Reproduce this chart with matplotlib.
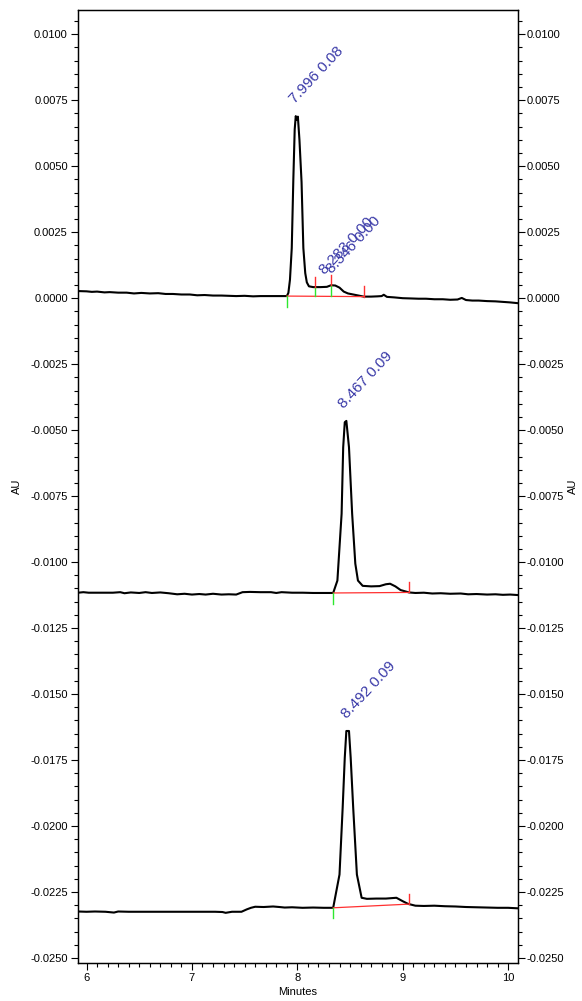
import numpy as np
import matplotlib
matplotlib.use("Agg")
import matplotlib.pyplot as plt
from matplotlib.ticker import MultipleLocator, FuncFormatter

plt.rcParams["font.family"] = ["Liberation Sans", "DejaVu Sans"]

# --- Traza 1 (superior) ---
t1 = [5.92, 6.00, 6.05, 6.10, 6.17, 6.22, 6.30, 6.38, 6.45, 6.52, 6.60, 6.68,
      6.75, 6.82, 6.90, 6.98, 7.05, 7.12, 7.20, 7.28, 7.35, 7.42, 7.50, 7.58,
      7.65, 7.72, 7.80, 7.86, 7.90, 7.915, 7.93, 7.947, 7.962, 7.975, 7.985,
      7.995, 8.005, 8.02, 8.04, 8.057, 8.075, 8.09, 8.11, 8.15, 8.22, 8.28,
      8.32, 8.36, 8.40, 8.44, 8.48, 8.53, 8.58, 8.63, 8.70, 8.76, 8.80, 8.82,
      8.85, 8.92, 9.00, 9.08, 9.15, 9.22, 9.30, 9.38, 9.45, 9.52, 9.56, 9.60,
      9.66, 9.72, 9.80, 9.88, 9.95, 10.02, 10.095]
a1 = [0.00027, 0.00026, 0.00024, 0.00025, 0.00022, 0.00023, 0.00021, 0.00021,
      0.00018, 0.00020, 0.00018, 0.00019, 0.00016, 0.00016, 0.00014, 0.00014,
      0.00011, 0.00012, 0.00010, 0.00010, 0.00009, 0.00008, 0.00009, 0.00007,
      0.00008, 0.00008, 0.00008, 0.00008, 0.00008, 0.00020, 0.00070, 0.00190,
      0.00450, 0.00640, 0.00690, 0.00675, 0.00688, 0.00600, 0.00440, 0.00190,
      0.00095, 0.00060, 0.00045, 0.00042, 0.00042, 0.00043, 0.00049, 0.00048,
      0.00040, 0.00025, 0.00018, 0.00014, 0.00010, 0.00006, 0.00006, 0.00007,
      0.00008, 0.00013, 0.00005, 0.00003, 0.00000, -0.00001, -0.00002,
      -0.00002, -0.00004, -0.00004, -0.00006, -0.00005, 0.00001, -0.00007,
      -0.00009, -0.00009, -0.00011, -0.00012, -0.00014, -0.00016, -0.00019]

# --- Traza 2 (media) ---
t2 = [5.92, 5.97, 6.02, 6.08, 6.15, 6.25, 6.32, 6.36, 6.42, 6.50, 6.56, 6.62,
      6.70, 6.78, 6.86, 6.93, 7.00, 7.07, 7.13, 7.20, 7.28, 7.35, 7.42, 7.48,
      7.55, 7.65, 7.75, 7.80, 7.85, 7.95, 8.05, 8.15, 8.25, 8.34, 8.38, 8.42,
      8.435, 8.45, 8.465, 8.49, 8.52, 8.55, 8.575, 8.62, 8.70, 8.78, 8.84, 8.88,
      8.93, 8.98, 9.06, 9.12, 9.20, 9.28, 9.36, 9.45, 9.55, 9.62, 9.70, 9.80,
      9.88, 9.95, 10.02, 10.095]
a2 = [-0.01116, -0.01114, -0.01116, -0.01116, -0.01116, -0.01116, -0.01114,
      -0.01118, -0.01115, -0.01117, -0.01114, -0.01117, -0.01115, -0.01118,
      -0.01122, -0.01120, -0.01123, -0.01121, -0.01123, -0.01120, -0.01123,
      -0.01122, -0.01123, -0.01114, -0.01113, -0.01114, -0.01114, -0.01117,
      -0.01114, -0.01116, -0.01116, -0.01117, -0.01117, -0.01117, -0.01070,
      -0.00817, -0.00565, -0.00470, -0.00465, -0.00565, -0.00817, -0.01006,
      -0.01070, -0.01090, -0.01092, -0.01091, -0.01084, -0.01082, -0.01092,
      -0.01106, -0.01115, -0.01117, -0.01116, -0.01119, -0.01118, -0.01120,
      -0.01119, -0.01122, -0.01121, -0.01123, -0.01122, -0.01124, -0.01123,
      -0.01125]

# --- Traza 3 (inferior) ---
t3 = [5.92, 6.00, 6.08, 6.18, 6.26, 6.30, 6.40, 6.50, 6.62, 6.75, 6.88, 7.00,
      7.12, 7.22, 7.29, 7.32, 7.38, 7.47, 7.52, 7.56, 7.60, 7.68, 7.77, 7.83,
      7.88, 7.95, 8.05, 8.15, 8.25, 8.34, 8.40, 8.43, 8.45, 8.465, 8.49, 8.506,
      8.53, 8.565, 8.61, 8.66, 8.75, 8.84, 8.94, 9.00, 9.05, 9.12, 9.20, 9.30,
      9.40, 9.50, 9.60, 9.70, 9.80, 9.90, 10.00, 10.095]
a3 = [-0.02324, -0.02325, -0.02324, -0.02325, -0.02328, -0.02324, -0.02325,
      -0.02325, -0.02325, -0.02325, -0.02325, -0.02325, -0.02325, -0.02325,
      -0.02326, -0.02329, -0.02325, -0.02325, -0.02316, -0.02310, -0.02306,
      -0.02307, -0.02305, -0.02307, -0.02309, -0.02308, -0.02310, -0.02309,
      -0.02310, -0.02310, -0.02184, -0.01931, -0.01741, -0.01640, -0.01640,
      -0.01741, -0.01931, -0.02184, -0.02272, -0.02276, -0.02275, -0.02275,
      -0.02272, -0.02285, -0.02295, -0.02302, -0.02303, -0.02302, -0.02304,
      -0.02305, -0.02307, -0.02308, -0.02309, -0.02310, -0.02310, -0.02312]

# Picos integrados: tiempo de retención y área
rt1, area1 = [7.996, 8.283, 8.346], [0.08, 0.00, 0.00]
rt2, area2 = [8.467], [0.09]
rt3, area3 = [8.492], [0.09]

# Eventos de integración: inicio, caídas (drop lines), fin
start1, drops1, end1 = 7.90, [8.17, 8.32], 8.63
start2, drops2, end2 = 8.34, [], 9.06
start3, drops3, end3 = 8.34, [], 9.06

trazas = [
    (t1, a1, rt1, area1, start1, drops1, end1),
    (t2, a2, rt2, area2, start2, drops2, end2),
    (t3, a3, rt3, area3, start3, drops3, end3),
]

VERDE = "#2ee82e"
ROJO = "#ff3030"
AZUL = "#3a3aa8"
TICK = 0.0004

fig = plt.figure(figsize=(5.82, 10.01), dpi=100)
ax = fig.add_axes([0.1333, 0.038, 0.757, 0.952])

for t, a, rts, areas, ini, drops, fin in trazas:
    t = np.array(t)
    a = np.array(a)
    ax.plot(t, a, color="black", lw=1.5, zorder=3)

    # Línea base de integración
    b_ini = np.interp(ini, t, a)
    b_fin = np.interp(fin, t, a)
    ax.plot([ini, fin], [b_ini, b_fin], color=ROJO, lw=0.9, zorder=4)

    # Marca de inicio (verde, hacia abajo)
    ax.plot([ini, ini], [b_ini, b_ini - TICK], color=VERDE, lw=1.0, zorder=4)
    # Caídas: verde desde la base hasta la traza, rojo por encima
    for d in drops:
        yb = np.interp(d, [ini, fin], [b_ini, b_fin])
        yt = np.interp(d, t, a)
        ax.plot([d, d], [yb, yt], color=VERDE, lw=1.0, zorder=4)
        ax.plot([d, d], [yt, yt + TICK], color=ROJO, lw=1.0, zorder=4)
    # Marca de fin (roja, hacia arriba)
    yf = np.interp(fin, t, a)
    ax.plot([fin, fin], [yf, yf + TICK], color=ROJO, lw=1.0, zorder=4)

    # Etiquetas de los picos
    for rt, ar in zip(rts, areas):
        yp = np.interp(rt, t, a)
        if rt == max(rts, key=lambda r: np.interp(r, t, a)):
            yp = a[(t > rt - 0.03) & (t < rt + 0.03)].max()
        ax.annotate(f"{rt:.3f} {ar:.2f}", xy=(rt, yp), xytext=(0, 7),
                    textcoords="offset points", rotation=47,
                    rotation_mode="anchor", ha="left", va="bottom",
                    fontsize=11, color=AZUL, zorder=5)

ax.set_xlim(5.915, 10.095)
ax.set_ylim(-0.02519, 0.01092)

fmt = FuncFormatter(lambda v, p: f"{v:.4f}")
ax.xaxis.set_major_locator(MultipleLocator(1))
ax.xaxis.set_minor_locator(MultipleLocator(0.1))
ax.yaxis.set_major_locator(MultipleLocator(0.0025))
ax.yaxis.set_minor_locator(MultipleLocator(0.0005))
ax.yaxis.set_major_formatter(fmt)
ax.tick_params(which="major", direction="out", length=5, width=0.8,
               labelsize=8, pad=2)
ax.tick_params(which="minor", direction="out", length=3, width=0.8)
ax.set_xlabel("Minutes", fontsize=8, labelpad=3)
ax.set_ylabel("AU", fontsize=8, labelpad=6)

ax2 = ax.twinx()
ax2.set_ylim(ax.get_ylim())
ax2.yaxis.set_major_locator(MultipleLocator(0.0025))
ax2.yaxis.set_minor_locator(MultipleLocator(0.0005))
ax2.yaxis.set_major_formatter(fmt)
ax2.tick_params(which="major", direction="out", length=5, width=0.8,
                labelsize=8, pad=1)
ax2.tick_params(which="minor", direction="out", length=3, width=0.8)
ax2.set_ylabel("AU", fontsize=8, labelpad=3)

for a_ in (ax, ax2):
    for s in a_.spines.values():
        s.set_linewidth(0.9)

fig.savefig("out.png", dpi=100)
plt.close(fig)
